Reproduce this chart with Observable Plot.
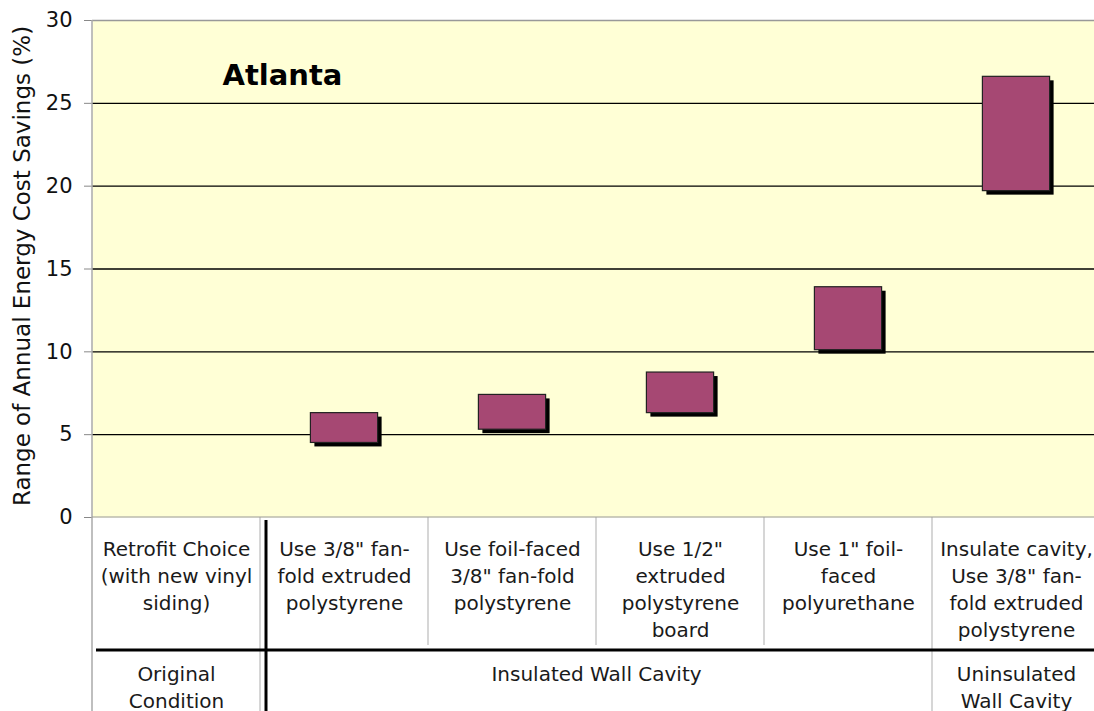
<!DOCTYPE html>
<html>
<head>
<meta charset="utf-8">
<script src="https://cdn.jsdelivr.net/npm/d3@7"></script>
<script src="https://cdn.jsdelivr.net/npm/@observablehq/plot@0.6"></script>
<style>
  html, body { margin: 0; padding: 0; background: #fff; }
  #chart svg { display: block; }
</style>
</head>
<body>
<div id="chart"></div>
<script>
// ---- data ----
const categories = [
  "Retrofit Choice\n(with new vinyl\nsiding)",
  "Use 3/8\" fan-\nfold extruded\npolystyrene",
  "Use foil-faced\n3/8\" fan-fold\npolystyrene",
  "Use 1/2\"\nextruded\npolystyrene\nboard",
  "Use 1\" foil-\nfaced\npolyurethane",
  "Insulate cavity,\nUse 3/8\" fan-\nfold extruded\npolystyrene"
];
const lowValues  = [null, 4.5, 5.3, 6.3, 10.1, 19.7];
const highValues = [null, 6.3, 7.4, 8.75, 13.9, 26.6];
const groupLabels = ["Original\nCondition", "Insulated Wall Cavity", "Uninsulated\nWall Cavity"];
const groupStart = [0, 1, 5];
const groupEnd   = [1, 5, 6];
const yTicks = [0, 5, 10, 15, 20, 25, 30];
const cityTitle = "Atlanta";
const yLabel = "Range of Annual Energy Cost Savings (%)";

// ---- derived tables ----
const bars = categories.map((c, i) => ({i, low: lowValues[i], high: highValues[i]}))
  .filter(d => d.low != null);
const cols = categories.map((c, i) => ({i, label: c}));
const groups = groupLabels.map((g, k) => ({label: g, mid: (groupStart[k] + groupEnd[k]) / 2}));

const font = "DejaVu Sans, Verdana, sans-serif";
const barWidth = 0.4;

const chart = Plot.plot({
  width: 1094,
  height: 711,
  marginLeft: 92,
  marginRight: 0,
  marginTop: 20,
  marginBottom: 194,
  style: {fontFamily: font, background: "#fff", color: "#111"},
  x: {domain: [0, categories.length], range: [92, 1100], axis: null},
  y: {domain: [0, 30], ticks: yTicks, label: null},
  marks: [
    Plot.frame({fill: "#FFFFD6", stroke: null}),
    Plot.ruleY(yTicks.filter(t => t > 0 && t < 30), {stroke: "#000", strokeWidth: 1.3}),
    Plot.ruleY([30], {stroke: "#999", strokeWidth: 1.5}),
    Plot.axisY({ticks: yTicks, tickSize: 8, tickPadding: 12, fontSize: 21, stroke: "#888", label: null, fill: "#111"}),
    Plot.text([yLabel], {frameAnchor: "left", dx: -70, dy: -3, rotate: -90, fontSize: 23, fill: "#111", lineAnchor: "middle", textAnchor: "middle"}),
    Plot.text([cityTitle], {frameAnchor: "top-left", dx: 130, dy: 55, fontSize: 29, fontWeight: "bold", fill: "#000", lineAnchor: "middle", textAnchor: "start"}),
    // bar shadows
    Plot.rect(bars, {x1: d => d.i + 0.5 - barWidth / 2, x2: d => d.i + 0.5 + barWidth / 2, y1: "low", y2: "high", fill: "#000", dx: 4, dy: 4}),
    // bars
    Plot.rect(bars, {x1: d => d.i + 0.5 - barWidth / 2, x2: d => d.i + 0.5 + barWidth / 2, y1: "low", y2: "high", fill: "#A64873", stroke: "#222", strokeWidth: 1.2}),
    // table text row 1
    Plot.text(cols, {x: d => d.i + 0.5, text: "label", frameAnchor: "bottom", lineAnchor: "top", dy: 19, fontSize: 20, lineHeight: 1.36, fill: "#1a1a1a"}),
    // table text row 2
    Plot.text(groups, {x: "mid", text: "label", frameAnchor: "bottom", lineAnchor: "top", dy: 145, fontSize: 20, lineHeight: 1.33, fill: "#1a1a1a"})
  ]
});
document.getElementById("chart").appendChild(chart);

// ---- table grid lines (positions from the Plot x/y scales) ----
const sx = chart.scale("x"), sy = chart.scale("y");
const px = v => sx.apply(v);
const y0 = sy.apply(0);          // bottom of plot frame
const yTop = sy.apply(30);
const row1End = y0 + 128;
const rowDiv = y0 + 133;
const yEnd = 711;
const svg = d3.select(chart);
const g = svg.append("g");
const line = (x1, y1, x2, y2, stroke, w) =>
  g.append("line").attr("x1", x1).attr("y1", y1).attr("x2", x2).attr("y2", y2)
   .attr("stroke", stroke).attr("stroke-width", w);
line(px(0), yTop, px(0), yEnd, "#aaa", 1.5);
for (let k = 1; k < categories.length; k++) {
  const full = groupStart.includes(k);
  line(px(k), y0, px(k), full ? yEnd : row1End, "#bbb", 1.2);
}
line(px(1) + 6, y0 + 3, px(1) + 6, yEnd, "#000", 3);
line(px(0) + 4, rowDiv, 1094, rowDiv, "#000", 3);
line(px(0), y0, 1094, y0, "#999", 1);
</script>
</body>
</html>
